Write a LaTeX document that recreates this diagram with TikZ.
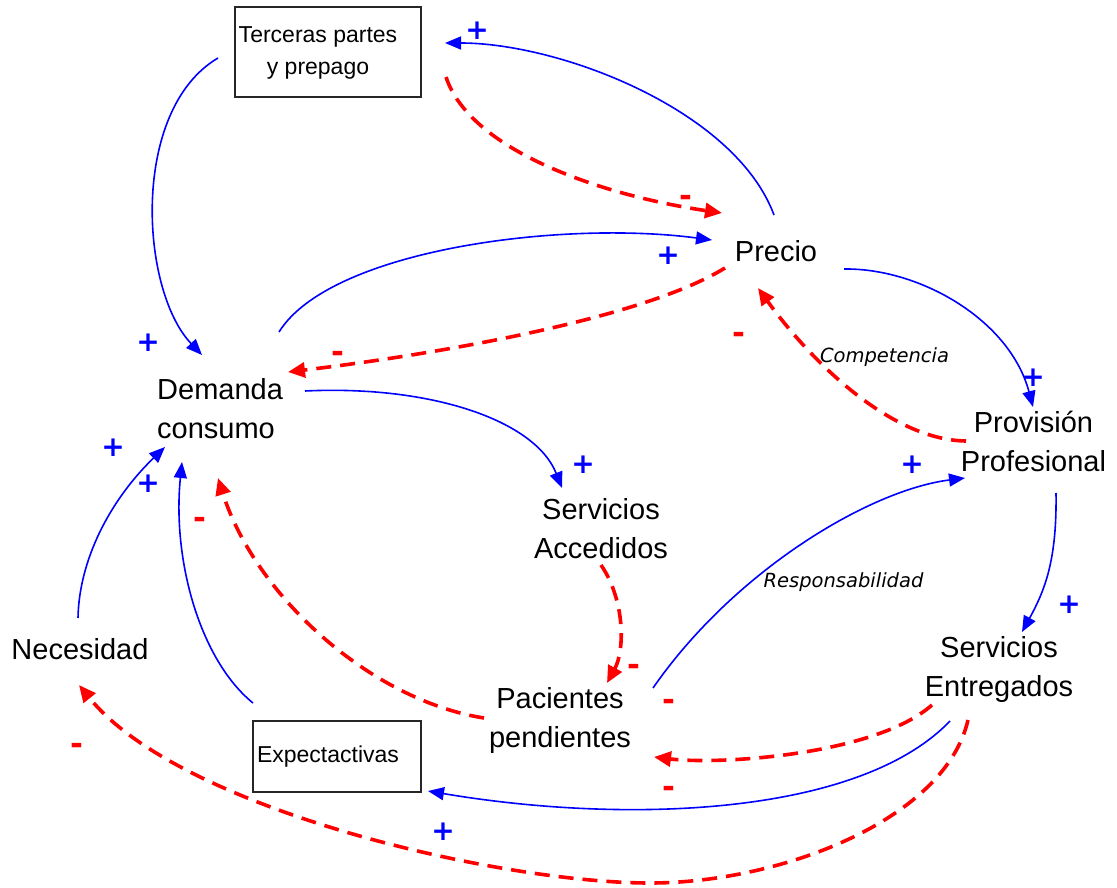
\documentclass[tikz,border=0pt]{standalone}
\usepackage{fontspec}
\setmainfont{Liberation Sans}
\newfontfamily\labelfont{DejaVu Sans}[ItalicFont={DejaVu Sans Oblique},BoldFont={DejaVu Sans Bold}]
\usetikzlibrary{arrows.meta}

% two stacked lines whose baseline is the first line's baseline
\newcommand\twoline[3][c]{\begin{tabular}[t]{@{}#1@{}}#2\\#3\end{tabular}}

\begin{document}
\begin{tikzpicture}[x=1pt,y=-1pt,
  var/.style={font=\fontsize{29}{39}\selectfont, inner sep=0pt},
  boxed/.style={draw=black!85, line width=1.1pt, font=\fontsize{23}{32}\selectfont, inner sep=0pt},
  poslink/.style={blue, line width=1.6pt, -{Triangle[length=16pt,width=13pt]}},
  neglink/.style={red, line width=3.6pt, dash pattern=on 15pt off 9pt, -{Triangle[length=17pt,width=15pt]}},
  plus/.style={text=blue, font=\labelfont\bfseries\fontsize{28}{28}\selectfont, inner sep=0pt},
  minus/.style={text=red, font=\labelfont\bfseries\fontsize{31}{31}\selectfont, inner sep=0pt, yshift=-4pt},
  loopname/.style={font=\labelfont\itshape\fontsize{19.5}{20}\selectfont, inner sep=0pt, anchor=base}]

\fill[white] (0,0) rectangle (1117,888);
\useasboundingbox (0,0) rectangle (1117,888);

% variables
\node[boxed, minimum width=186pt, minimum height=90pt] (terceras) at (328,52)
  {\hspace*{-20pt}\twoline{Terceras partes}{y prepago}};
\node[boxed, minimum width=168pt, minimum height=71pt] (expect) at (337,756.5)
  {\hspace*{-18pt}Expectactivas};
\node[var, anchor=base] (precio) at (776,261) {Precio};
\node[var, anchor=base west] (demanda) at (157,399) {\twoline[l]{Demanda}{consumo}};
\node[var, anchor=base] (provision) at (1033.5,432) {\twoline{Provisión}{Profesional}};
\node[var, anchor=base] (accedidos) at (601,519) {\twoline{Servicios}{Accedidos}};
\node[var, anchor=base] (necesidad) at (80,659) {Necesidad};
\node[var, anchor=base] (pacientes) at (560,708) {\twoline{Pacientes}{pendientes}};
\node[var, anchor=base] (entregados) at (999,657) {\twoline{Servicios}{Entregados}};

% loop names
\node[loopname] (competencia) at (884.5,362) {Competencia};
\node[loopname] (responsabilidad) at (843.5,587) {Responsabilidad};

% positive links
\draw[poslink] ([shift={(-2,-46)}]precio.base) .. controls (735,110) and (560,43) .. ([shift={(117,-9)}]terceras.center);
\draw[poslink] ([shift={(-110,6)}]terceras.center) .. controls (130,110) and (140,290) .. ([shift={(45,-44)}]demanda.base west);
\draw[poslink] ([shift={(122,-67)}]demanda.base west) .. controls (330,250) and (560,220) .. ([shift={(-64,-21)}]precio.base);
\draw[poslink] ([shift={(68,8)}]precio.base) .. controls (920,268) and (1010,320) .. ([shift={(-0.5,-25)}]provision.base);
\draw[poslink] ([shift={(148,-8)}]demanda.base west) .. controls (430,385) and (535,420) .. ([shift={(-39,-31)}]accedidos.base);
\draw[poslink] ([shift={(93,-20)}]pacientes.base) .. controls (735,570) and (870,490) .. ([shift={(-68.5,46)}]provision.base);
\draw[poslink] ([shift={(22.5,61)}]provision.base) .. controls (1057,560) and (1045,590) .. ([shift={(23,-25)}]entregados.base);
\draw[poslink] ([shift={(-49,64)}]entregados.base) .. controls (860,815) and (630,825) .. ([shift={(91,34.5)}]expect.center);
\draw[poslink] ([shift={(-2,-41)}]necesidad.base) .. controls (79,560) and (110,500) .. ([shift={(8,48)}]demanda.base west);
\draw[poslink] ([shift={(-84,-53.5)}]expect.center) .. controls (200,660) and (172,560) .. ([shift={(25,63)}]demanda.base west);

% negative links
\draw[neglink] ([shift={(118,25)}]terceras.center) .. controls (470,150) and (600,195) .. ([shift={(-54,-48)}]precio.base);
\draw[neglink] ([shift={(-51,7)}]precio.base) .. controls (640,320) and (430,355) .. ([shift={(131,-27)}]demanda.base west);
\draw[neglink] ([shift={(-67.5,9)}]provision.base) .. controls (890,440) and (810,360) .. ([shift={(-18,27)}]precio.base);
\draw[neglink] ([shift={(0,46)}]accedidos.base) .. controls (625,600) and (625,650) .. ([shift={(47,-25)}]pacientes.base);
\draw[neglink] ([shift={(-67,48)}]entregados.base) .. controls (875,755) and (720,765) .. ([shift={(94,49)}]pacientes.base);
\draw[neglink] ([shift={(-31,63)}]entregados.base) .. controls (945,820) and (780,883) .. (650,883)
  .. controls (500,883) and (180,810) .. ([shift={(-1,26)}]necesidad.base);
\draw[neglink] ([shift={(-76,10)}]pacientes.base) .. controls (370,700) and (255,595) .. ([shift={(61,79)}]demanda.base west);

% polarity signs
\node[plus] (p1) at (477,31) {+};
\node[plus] (p2) at (148,343) {+};
\node[plus] (p3) at (668,256) {+};
\node[plus] (p4) at (1033,378) {+};
\node[plus] (p5) at (583,465) {+};
\node[plus] (p6) at (912,465) {+};
\node[plus] (p7) at (1069,605) {+};
\node[plus] (p8) at (443,832) {+};
\node[plus] (p9) at (113,448) {+};
\node[plus] (p10) at (148,484) {+};

\node[minus] (m1) at (686,197) {-};
\node[minus] (m2) at (338,353) {-};
\node[minus] (m3) at (739,334) {-};
\node[minus] (m4) at (634,666) {-};
\node[minus] (m5) at (669,701) {-};
\node[minus] (m6) at (669,788) {-};
\node[minus] (m7) at (77,745) {-};
\node[minus] (m8) at (200,519) {-};
\end{tikzpicture}
\end{document}
